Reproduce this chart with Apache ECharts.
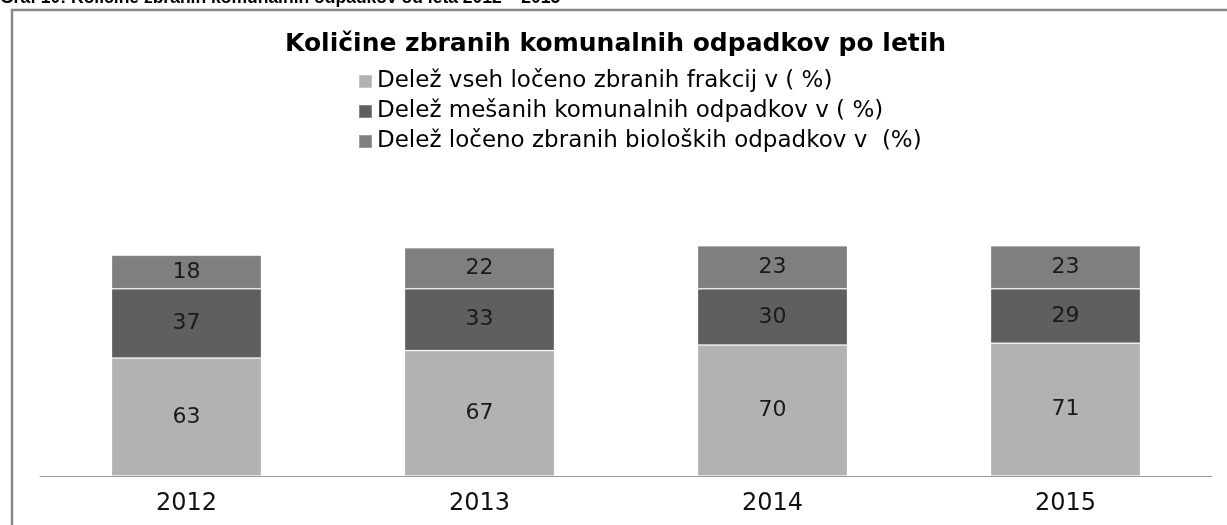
<!DOCTYPE html>
<html>
<head>
<meta charset="utf-8">
<script src="https://cdn.jsdelivr.net/npm/echarts@6/dist/echarts.min.js"></script>
<style>
  html, body { margin: 0; padding: 0; background: #fff; }
  #chart { width: 1227px; height: 525px; }
</style>
</head>
<body>
<div id="chart"></div>
<script>
// leta
var years = ['2012', '2013', '2014', '2015'];
// imena serij (legenda)
var seriesNames = [
  'Delež vseh ločeno zbranih frakcij v ( %)',
  'Delež mešanih komunalnih odpadkov v ( %)',
  'Delež ločeno zbranih bioloških odpadkov v  (%)'
];
var locenoFrakcije = [63, 67, 70, 71];
var mesaniOdpadki = [37, 33, 30, 29];
var bioloskiOdpadki = [18, 22, 23, 23];

var colors = ['#b2b2b2', '#5f5f5f', '#7f7f7f'];
var font = '"DejaVu Sans"';

var myChart = echarts.init(document.getElementById('chart'));

function bar(name, data, color) {
  return {
    name: name,
    type: 'bar',
    stack: 'total',
    barWidth: 150,
    data: data,
    itemStyle: { color: color, borderColor: 'rgba(255,255,255,0.25)', borderWidth: 1 },
    label: {
      show: true,
      position: 'inside',
      color: '#1a1a1a',
      fontFamily: font,
      fontSize: 22
    }
  };
}

var option = {
  animation: false,
  backgroundColor: '#fff',
  title: {
    text: 'Količine zbranih komunalnih odpadkov po letih',
    left: 280,
    top: 27,
    textStyle: { fontFamily: font, fontWeight: 'bold', fontSize: 25, color: '#000' }
  },
  legend: {
    orient: 'vertical',
    left: 353,
    top: 65,
    itemWidth: 13,
    itemHeight: 13,
    itemGap: 7,
    icon: 'rect',
    data: seriesNames,
    textStyle: { fontFamily: font, fontSize: 23, color: '#000' }
  },
  grid: { left: 40, right: 15, top: 214, bottom: 49 },
  xAxis: {
    type: 'category',
    data: years,
    axisLine: { lineStyle: { color: '#9a9a9a', width: 1 } },
    axisTick: { show: false },
    axisLabel: { fontFamily: font, fontSize: 24, color: '#111', margin: 16 }
  },
  yAxis: {
    type: 'value',
    min: 0,
    max: 140,
    show: false,
    splitLine: { show: false }
  },
  graphic: [
    {
      type: 'text',
      x: 0,
      y: 7,
      style: {
        text: 'Graf 10: Količine zbranih komunalnih odpadkov od leta 2012 – 2015',
        fontFamily: '"Liberation Sans"',
        fontWeight: 'bold',
        fontSize: 17.5,
        fill: '#000',
        verticalAlign: 'bottom'
      }
    },
    {
      type: 'polyline',
      shape: { points: [[12, 525], [12, 10], [1227, 10]] },
      style: { stroke: '#888', lineWidth: 2.5, fill: null }
    }
  ],
  series: [
    bar(seriesNames[0], locenoFrakcije, colors[0]),
    bar(seriesNames[1], mesaniOdpadki, colors[1]),
    bar(seriesNames[2], bioloskiOdpadki, colors[2])
  ]
};

myChart.setOption(option);
</script>
</body>
</html>
